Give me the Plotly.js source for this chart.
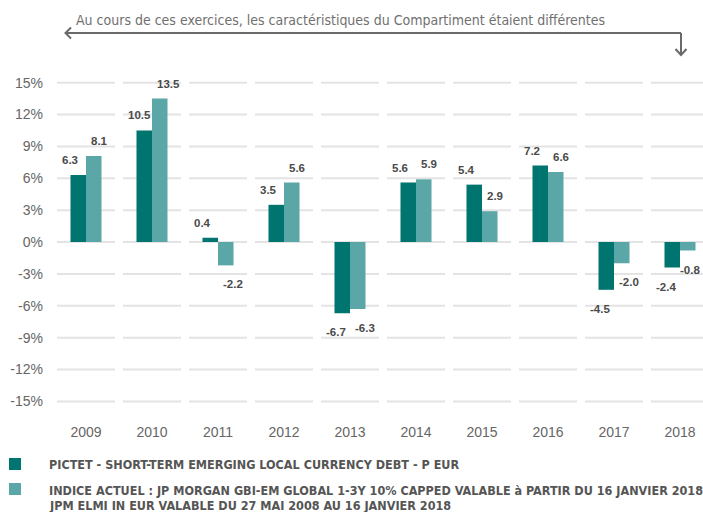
<!DOCTYPE html>
<html>
<head>
<meta charset="utf-8">
<script src="https://cdn.plot.ly/plotly-3.0.1.min.js"></script>
<style>
html,body{margin:0;padding:0;background:#fff;}
#chart{width:703px;height:512px;}
</style>
</head>
<body>
<div id="chart"></div>
<script>
const years = ['2009','2010','2011','2012','2013','2014','2015','2016','2017','2018'];
const fundValues = [6.3, 10.5, 0.4, 3.5, -6.7, 5.6, 5.4, 7.2, -4.5, -2.4];
const indexValues = [8.1, 13.5, -2.2, 5.6, -6.3, 5.9, 2.9, 6.6, -2.0, -0.8];
const yTicks = [-15, -12, -9, -6, -3, 0, 3, 6, 9, 12, 15];
const yTickLabels = ['-15%','-12%','-9%','-6%','-3%','0%','3%','6%','9%','12%','15%'];
const seriesNames = [
  'PICTET - SHORT-TERM EMERGING LOCAL CURRENCY DEBT - P EUR',
  'INDICE ACTUEL : JP MORGAN GBI-EM GLOBAL 1-3Y 10% CAPPED VALABLE à PARTIR DU 16 JANVIER 2018',
  'JPM ELMI IN EUR VALABLE DU 27 MAI 2008 AU 16 JANVIER 2018'
];
const headerText = 'Au cours de ces exercices, les caractéristiques du Compartiment étaient différentes';

const darkColor = '#00756f';
const lightColor = '#5ba6a6';

const W = 703, H = 512;
const mL = 53, mR = 0, mT = 72, mB = 100;
const pw = W - mL - mR, ph = H - mT - mB;
const px = x => (x - mL) / pw;
const py = y => (H - mB - y) / ph;

const narrow = '"DejaVu Sans Condensed", "Liberation Sans Narrow", sans-serif';

const traces = [
  {type:'bar', x: years, y: fundValues, name: seriesNames[0], marker:{color: darkColor}, hoverinfo:'none'},
  {type:'bar', x: years, y: indexValues, name: seriesNames[1], marker:{color: lightColor}, hoverinfo:'none'}
];

const shapes = [];
// segmented gridlines per category
years.forEach((yr, i) => {
  yTicks.forEach(t => {
    shapes.push({type:'line', xref:'x', yref:'y', x0: i - 0.44, x1: i + 0.44, y0: t, y1: t,
      line:{color:'#e4e4e4', width:2}, layer:'below'});
  });
});
// header arrow
const arrowColor = '#6a6a6a';
shapes.push({type:'line', xref:'paper', yref:'paper', x0: px(65), x1: px(681), y0: py(33), y1: py(33),
  line:{color: arrowColor, width:2}});
shapes.push({type:'line', xref:'paper', yref:'paper', x0: px(681), x1: px(681), y0: py(33), y1: py(55),
  line:{color: arrowColor, width:2}});
shapes.push({type:'path', xref:'paper', yref:'paper',
  path: `M${px(71)},${py(27.5)} L${px(65.5)},${py(33)} L${px(71)},${py(38.5)}`,
  line:{color: arrowColor, width:2}});
shapes.push({type:'path', xref:'paper', yref:'paper',
  path: `M${px(675.5)},${py(49)} L${px(681)},${py(55)} L${px(686.5)},${py(49)}`,
  line:{color: arrowColor, width:2}});
// legend squares
shapes.push({type:'rect', xref:'paper', yref:'paper', x0: px(9), x1: px(21), y0: py(458), y1: py(470),
  fillcolor: darkColor, line:{width:0}});
shapes.push({type:'rect', xref:'paper', yref:'paper', x0: px(9), x1: px(21), y0: py(483), y1: py(495),
  fillcolor: lightColor, line:{width:0}});

const annotations = [];
const labelFont = {family:'"Liberation Sans", Arial, sans-serif', size:11.5, color:'#4a4a4a'};
function addLabels(vals, xshift, clampLast) {
  vals.forEach((v, i) => {
    const last = clampLast && i === vals.length - 1;
    annotations.push({xref:'x', yref:'y', x: i, y: v, text: '<b>' + v.toFixed(1) + '</b>',
      showarrow:false, xanchor: last ? 'right' : 'left', yanchor:'middle',
      xshift: last ? 22 : xshift, yshift: v >= 0 ? 15 : -19,
      font: labelFont});
  });
}
addLabels(fundValues, -26, false);
addLabels(indexValues, 3, true);

annotations.push({xref:'paper', yref:'paper', x: px(74), y: py(20), text: headerText, showarrow:false,
  xanchor:'left', yanchor:'middle', font:{family: narrow, size:14, color:'#707070'}});
const legFont = {family: narrow, size:12.5, color:'#555555'};
[[465, seriesNames[0]], [490, seriesNames[1]], [506, seriesNames[2]]].forEach(([y, t]) => {
  annotations.push({xref:'paper', yref:'paper', x: px(47), y: py(y), text: '<b>' + t + '</b>', showarrow:false,
    xanchor:'left', yanchor:'middle', font: legFont});
});

const layout = {
  width: W, height: H,
  margin: {l: mL, r: mR, t: mT, b: mB, pad: 0},
  paper_bgcolor: '#fff', plot_bgcolor: '#fff',
  showlegend: false,
  barmode: 'group', bargap: 0.53, bargroupgap: 0,
  xaxis: {type:'category', range:[-0.5, -0.5 + pw / 66], showgrid:false, zeroline:false, showline:false,
    ticks:'', ticklabelstandoff: 10, tickfont:{family:'"Liberation Sans", Arial, sans-serif', size:14, color:'#666666'},
    fixedrange:true},
  yaxis: {range:[-16, 16], tickvals: yTicks, ticktext: yTickLabels, showgrid:false, zeroline:false, showline:false,
    ticks:'', ticklabelstandoff: 9, tickfont:{family:'"Liberation Sans", Arial, sans-serif', size:14, color:'#666666'},
    fixedrange:true},
  shapes: shapes,
  annotations: annotations
};

Plotly.newPlot('chart', traces, layout, {displayModeBar:false, staticPlot:true});
</script>
</body>
</html>
